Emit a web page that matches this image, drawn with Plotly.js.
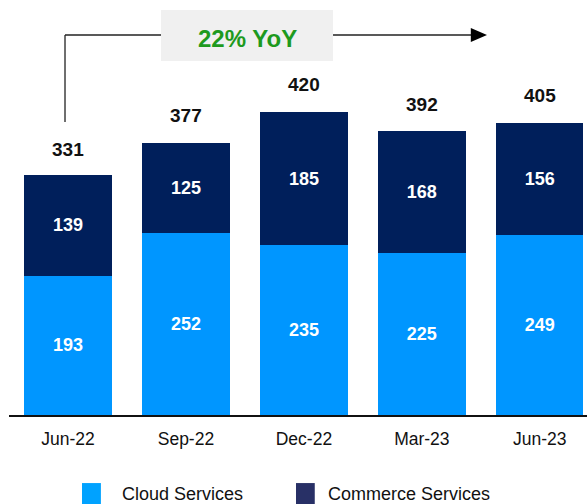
<!DOCTYPE html>
<html>
<head>
<meta charset="utf-8">
<script src="https://cdn.plot.ly/plotly-3.0.1.min.js"></script>
<style>html,body{margin:0;padding:0;background:#fff;}#chart{width:587px;height:504px;}</style>
</head>
<body>
<div id="chart"></div>
<script>
const categories = ["Jun-22", "Sep-22", "Dec-22", "Mar-23", "Jun-23"];
const seriesNames = ["Cloud Services", "Commerce Services"];
const cloudServices = [193, 252, 235, 225, 249];
const commerceServices = [139, 125, 185, 168, 156];
const totals = [331, 377, 420, 392, 405];
const yoyLabel = "22% YoY";

const cloudColor = "#0096FF";
const commerceColor = "#001F5B";
const fontFam = "Liberation Sans, Arial, sans-serif";

const traces = [
  {
    type: "bar", name: seriesNames[0], x: categories, y: cloudServices,
    marker: {color: cloudColor},
    text: cloudServices.map(String), textposition: "inside", insidetextanchor: "middle",
    textangle: 0, textfont: {color: "#ffffff", size: 18, family: fontFam, weight: "bold"},
    hoverinfo: "none", showlegend: false
  },
  {
    type: "bar", name: seriesNames[1], x: categories, y: commerceServices,
    marker: {color: commerceColor},
    text: commerceServices.map(String), textposition: "inside", insidetextanchor: "middle",
    textangle: 0, textfont: {color: "#ffffff", size: 18, family: fontFam, weight: "bold"},
    hoverinfo: "none", showlegend: false
  }
];

const annotations = categories.map((c, i) => ({
  x: c, y: totals[i], xref: "x", yref: "y", text: String(totals[i]),
  showarrow: false, xanchor: "center", yanchor: "middle", yshift: 27,
  font: {size: 19, color: "#111111", family: fontFam, weight: "bold"}
}));

// YoY label box
annotations.push({
  x: 0.4118, y: 0.9084, xref: "paper", yref: "paper", text: yoyLabel,
  xanchor: "center", yanchor: "middle",
  showarrow: false, font: {size: 24, color: "#1E9A1E", family: fontFam, weight: "bold"}
});
// Legend texts
annotations.push({x: 0.192, y: -0.1905, xref: "paper", yref: "paper", xanchor: "left", yanchor: "middle",
  text: seriesNames[0], showarrow: false, font: {size: 18, color: "#111111", family: fontFam}});
annotations.push({x: 0.548, y: -0.1905, xref: "paper", yref: "paper", xanchor: "left", yanchor: "middle",
  text: seriesNames[1], showarrow: false, font: {size: 18, color: "#111111", family: fontFam}});

const lineStyle = {color: "#222222", width: 1.3};
const shapes = [
  {type: "rect", xref: "paper", yref: "paper", x0: 0.263, x1: 0.5606, y0: 0.853, y1: 0.976,
   fillcolor: "#F0F0F0", line: {width: 0}, layer: "below"},
  {type: "line", xref: "paper", yref: "paper", x0: 0.0969, x1: 0.0969, y0: 0.706, y1: 0.9157, line: lineStyle},
  {type: "line", xref: "paper", yref: "paper", x0: 0.0969, x1: 0.263, y0: 0.9157, y1: 0.9157, line: lineStyle},
  {type: "line", xref: "paper", yref: "paper", x0: 0.5606, x1: 0.805, y0: 0.9157, y1: 0.9157, line: lineStyle},
  {type: "path", xref: "paper", yref: "paper", path: "M0.827,0.9157 L0.799,0.9325 L0.799,0.8988 Z",
   fillcolor: "#000000", line: {width: 0}},
  {type: "rect", xref: "paper", yref: "paper", x0: 0.1263, x1: 0.159, y0: -0.164, y1: -0.215,
   fillcolor: "#00A2FF", line: {width: 0}},
  {type: "rect", xref: "paper", yref: "paper", x0: 0.4965, x1: 0.529, y0: -0.164, y1: -0.215,
   fillcolor: "#283066", line: {width: 0}}
];

const layout = {
  width: 587, height: 504,
  margin: {l: 9, r: 0, t: 0, b: 89},
  paper_bgcolor: "#ffffff", plot_bgcolor: "#ffffff",
  barmode: "stack", bargap: 0.26,
  showlegend: false,
  font: {family: fontFam},
  xaxis: {
    type: "category", range: [-0.5, 4.4], showline: true, linecolor: "#111111", linewidth: 1.5,
    ticks: "", showgrid: false, zeroline: false, ticklabelstandoff: 7,
    tickfont: {size: 17.5, color: "#111111", family: fontFam}, fixedrange: true
  },
  yaxis: {range: [0, 574.8], visible: false, showgrid: false, zeroline: false, fixedrange: true},
  annotations: annotations,
  shapes: shapes
};

Plotly.newPlot("chart", traces, layout, {displayModeBar: false, staticPlot: true});
</script>
</body>
</html>
